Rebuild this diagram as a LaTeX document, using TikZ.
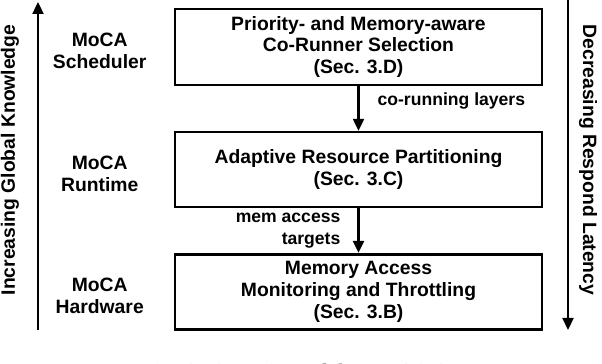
\documentclass[tikz,border=0pt]{standalone}
\usepackage{fontspec}
\setmainfont{Liberation Sans}
\newfontfamily\capfont{Liberation Serif}
\usetikzlibrary{arrows.meta,positioning,calc}

\begin{document}
\begin{tikzpicture}[x=0.02cm, y=0.02cm, node distance=0.89cm,
  font=\fontsize{11}{12.5}\selectfont\bfseries,
  box/.style={rectangle, draw, line width=1.5pt, minimum width=7.34cm, minimum height=1.5cm, align=center},
  layer/.style={align=center, inner sep=0pt},
  lbl/.style={font=\fontsize{10}{12}\selectfont\bfseries, inner sep=0pt},
  side/.style={inner sep=0pt},
  flow/.style={line width=1.3pt, -{Triangle[length=2.4mm, width=2.2mm]}}]
\useasboundingbox (0,0) rectangle (602,364);
\clip (0,0) rectangle (602,364);
% the three MoCA layers
\node[box, minimum height=1.52cm] (sched) at (358.5,317) {Priority- and Memory-aware\\Co-Runner Selection\\(Sec. 3.D)};
\node[box, below=of sched] (runtime) {Adaptive Resource Partitioning\\(Sec. 3.C)};
\node[box, below=of runtime] (hw) {Memory Access\\Monitoring and Throttling\\(Sec. 3.B)};
\draw[flow] (sched) -- node[lbl, right=0.36cm, pos=0.32] (corun) {co-running layers} (runtime);
\draw[flow] (runtime) -- node[lbl, left=0.34cm, align=right, midway] (memtgt) {mem access\\targets} (hw);
% layer names
\node[layer] (schedlbl) at ($(sched.west)+(-74,-4)$) {MoCA\\Scheduler};
\node[layer] (runtimelbl) at ($(runtime.west)+(-74,-4)$) {MoCA\\Runtime};
\node[layer] (hwlbl) at ($(hw.west)+(-74,-4)$) {MoCA\\Hardware};
% side arrows
\coordinate (kbot) at (38,34);
\coordinate (ktop) at (38,362);
\draw[flow] (kbot) -- (ktop);
\node[side, rotate=90] (know) at (10,204) {Increasing Global Knowledge};
\coordinate (ltop) at (568,364);
\coordinate (lbot) at (568,34);
\draw[flow] (ltop) -- (lbot);
\node[side, rotate=-90] (lat) at (588,204) {Decreasing Respond Latency};
% caption, cut at the bottom
\node[font=\capfont\fontsize{13}{15}\selectfont, text=gray!70, inner sep=0pt, anchor=north] (cap) at (325,1) {Fig. 2: Overview of the MoCA System.};
\end{tikzpicture}
\end{document}
